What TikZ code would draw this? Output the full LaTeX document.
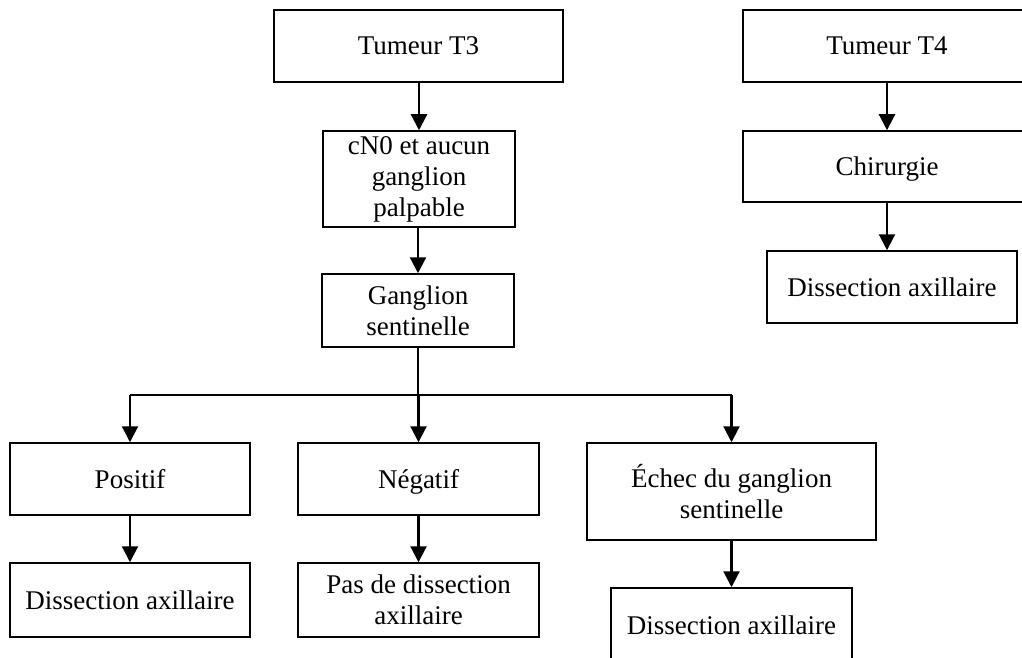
\documentclass[tikz,border=0pt]{standalone}
\usepackage{fontspec}
\setmainfont{Liberation Serif}
\usetikzlibrary{arrows.meta}
\begin{document}
\begin{tikzpicture}[x=1pt,y=-1pt,
  box/.style={draw, line width=1.5pt, rectangle, inner sep=0pt, align=center,
    font=\fontsize{27}{31}\selectfont},
  one/.style={text height=20pt, text depth=2pt},
  conn/.style={line width=2.2pt},
  arr/.style={conn, -{Triangle[width=16pt,length=16pt]}}]
\useasboundingbox (0,0) rectangle (1022,658);
\clip (0,0) rectangle (1022,658);
\node[box, one, minimum width=289pt, minimum height=72pt] (t3) at (418.5,46) {Tumeur T3};
\node[box, minimum width=192pt, minimum height=96pt] (cn0) at (419,179) {cN0 et aucun\\ganglion\\palpable};
\node[box, minimum width=192pt, minimum height=73pt] (gs) at (418,310.5) {Ganglion\\sentinelle};
\node[box, one, minimum width=288pt, minimum height=72pt] (t4) at (887,46) {Tumeur T4};
\node[box, one, minimum width=288pt, minimum height=71pt] (chir) at (887,166.5) {Chirurgie};
\node[box, one, minimum width=250pt, minimum height=72pt] (dr) at (892,287) {Dissection axillaire};
\node[box, one, minimum width=240pt, minimum height=72pt] (pos) at (130,479) {Positif};
\node[box, one, minimum width=241pt, minimum height=72pt] (neg) at (418.5,479) {Négatif};
\node[box, minimum width=289pt, minimum height=97pt] (ech) at (731.5,491.5) {Échec du ganglion\\sentinelle};
\node[box, one, minimum width=240pt, minimum height=74pt] (dl) at (130,600) {Dissection axillaire};
\node[box, minimum width=241pt, minimum height=74pt] (pas) at (418.5,600) {Pas de dissection\\axillaire};
\node[box, one, minimum width=241pt, minimum height=74pt] (db) at (731.5,625) {Dissection axillaire};
\coordinate (br) at (418,395);
\draw[arr] (t3.south -| cn0.north) -- (cn0.north);
\draw[arr] (cn0.south -| gs.north) -- (gs.north);
\draw[conn] (gs.south) -- (br);
\draw[conn] (br -| pos.north) -- (br -| ech.north);
\draw[arr] (br -| pos.north) -- (pos.north);
\draw[arr] (br -| neg.north) -- (neg.north);
\draw[arr] (br -| ech.north) -- (ech.north);
\draw[arr] (pos.south) -- (dl.north);
\draw[arr] (neg.south) -- (pas.north);
\draw[arr] (ech.south) -- (db.north);
\draw[arr] (t4.south) -- (chir.north);
\draw[arr] (chir.south) -- (chir.south |- dr.north);
\end{tikzpicture}
\end{document}
